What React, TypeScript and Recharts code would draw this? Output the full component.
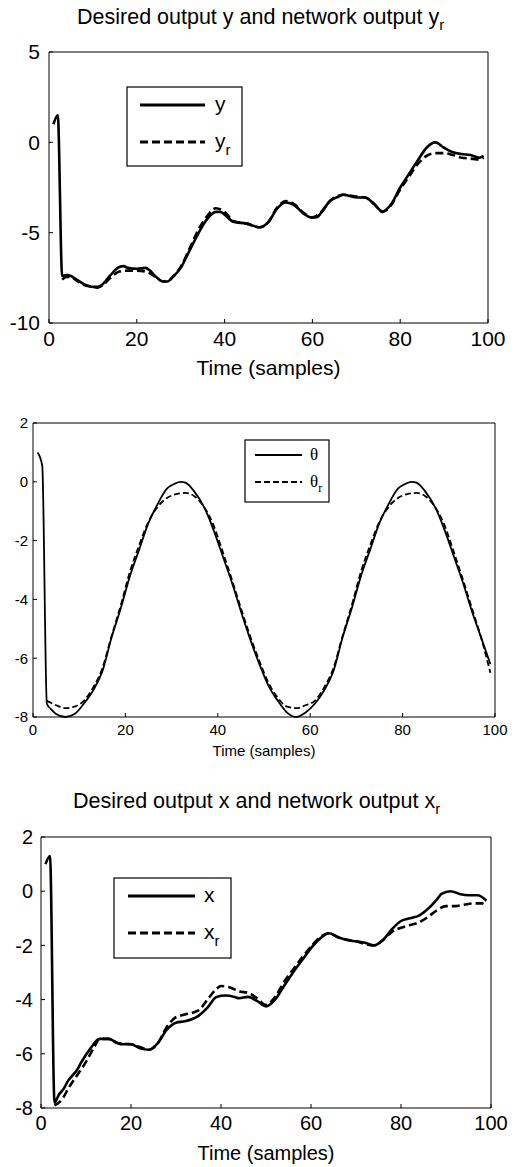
import React from 'react';
import { LineChart, Line, XAxis, YAxis } from 'recharts';

const SANS = '"Liberation Sans", Arial, Helvetica, sans-serif';
const SERIF = '"Liberation Serif", "Times New Roman", serif';

const timeTicks = [0, 20, 40, 60, 80, 100];

// panel 1: y and y_r
const yTicks1 = [-10, -5, 0, 5];
const tY = [1, 2, 3, 4, 5, 6, 8, 10, 11, 12, 14, 16, 17, 18, 20, 22, 23, 24, 26, 27, 28, 30, 32, 34, 36, 38, 39, 40, 42, 45, 48, 50, 52, 54, 56, 58, 60, 61, 62, 64, 66, 67, 70, 72, 74, 76, 78, 80, 82, 84, 86, 88, 90, 92, 94, 96, 98, 99];
const yDesired = [1.0, 1.5, -7.4, -7.35, -7.4, -7.55, -7.85, -8.0, -8.0, -7.9, -7.35, -6.9, -6.85, -6.95, -7.0, -6.95, -7.1, -7.35, -7.7, -7.7, -7.5, -6.95, -6.0, -5.05, -4.25, -3.85, -3.85, -4.0, -4.4, -4.5, -4.7, -4.4, -3.65, -3.33, -3.5, -3.95, -4.17, -4.15, -3.9, -3.25, -3.0, -2.9, -3.05, -3.05, -3.4, -3.83, -3.4, -2.5, -1.75, -1.0, -0.3, 0.0, -0.3, -0.55, -0.65, -0.7, -0.85, -0.75];
const tYr = [3, 4, 5, 6, 8, 10, 11, 12, 14, 16, 18, 20, 22, 24, 26, 27, 28, 30, 32, 34, 36, 38, 40, 42, 45, 48, 50, 52, 54, 56, 58, 60, 62, 64, 66, 67, 70, 72, 74, 76, 78, 80, 82, 84, 86, 88, 90, 92, 94, 96, 98, 99];
const yNetwork = [-7.6, -7.45, -7.45, -7.6, -7.9, -8.0, -8.05, -7.95, -7.5, -7.15, -7.1, -7.1, -7.15, -7.4, -7.7, -7.7, -7.5, -6.9, -5.9, -4.85, -4.1, -3.65, -3.85, -4.35, -4.5, -4.7, -4.4, -3.6, -3.25, -3.45, -3.9, -4.15, -3.85, -3.25, -2.95, -2.9, -3.0, -3.05, -3.4, -3.85, -3.45, -2.6, -1.9, -1.2, -0.75, -0.6, -0.6, -0.7, -0.85, -0.9, -0.95, -0.85];

// panel 2: theta and theta_r
const yTicks2 = [-8, -6, -4, -2, 0, 2];
const tTheta = [1, 2, 3, 4, 5, 7, 9, 11, 13, 15, 17, 19, 21, 23, 25, 27, 29, 30, 32, 33, 35, 37, 39, 41, 43, 45, 47, 49, 51, 53, 55, 57, 59, 61, 63, 65, 67, 69, 71, 73, 75, 77, 79, 80, 82, 83, 85, 87, 89, 91, 93, 95, 97, 99];
const thetaDesired = [1.0, 0.55, -7.55, -7.75, -7.9, -8.0, -7.9, -7.55, -7.1, -6.45, -5.3, -4.3, -3.2, -2.3, -1.4, -0.75, -0.23, -0.12, 0.0, -0.03, -0.35, -0.85, -1.6, -2.5, -3.4, -4.4, -5.35, -6.2, -6.95, -7.45, -7.85, -8.0, -7.85, -7.55, -7.1, -6.45, -5.3, -4.3, -3.2, -2.3, -1.4, -0.75, -0.23, -0.12, 0.0, -0.03, -0.35, -0.85, -1.6, -2.5, -3.4, -4.4, -5.3, -6.2];
const tThetaR = [3, 5, 7, 9, 11, 13, 15, 17, 19, 21, 23, 25, 27, 29, 31, 33, 35, 37, 39, 41, 43, 45, 47, 49, 51, 53, 55, 57, 59, 61, 63, 65, 67, 69, 71, 73, 75, 77, 79, 81, 83, 85, 87, 89, 91, 93, 95, 97, 99];
const thetaNetwork = [-7.45, -7.6, -7.7, -7.65, -7.45, -7.0, -6.35, -5.25, -4.2, -3.05, -2.15, -1.35, -0.85, -0.55, -0.42, -0.38, -0.5, -0.85, -1.45, -2.35, -3.3, -4.3, -5.25, -6.1, -6.85, -7.35, -7.65, -7.7, -7.6, -7.45, -7.0, -6.35, -5.25, -4.2, -3.05, -2.15, -1.35, -0.85, -0.55, -0.42, -0.38, -0.5, -0.85, -1.45, -2.35, -3.3, -4.3, -5.3, -6.5];

// panel 3: x and x_r
const yTicks3 = [-8, -6, -4, -2, 0, 2];
const tX = [1, 2, 3, 4, 5, 6, 8, 9, 11, 13, 15, 17, 18, 20, 22, 24, 26, 28, 30, 32, 35, 37, 39, 41, 43, 44, 46, 48, 50, 52, 54, 56, 58, 60, 62, 64, 66, 68, 70, 72, 74, 76, 78, 80, 82, 84, 86, 88, 89, 91, 93, 95, 97, 99];
const xDesired = [1.0, 1.3, -7.8, -7.5, -7.3, -7.0, -6.6, -6.3, -5.8, -5.45, -5.45, -5.6, -5.65, -5.65, -5.8, -5.85, -5.6, -5.1, -4.85, -4.8, -4.6, -4.3, -3.9, -3.85, -3.9, -3.95, -3.9, -4.05, -4.25, -4.0, -3.5, -3.0, -2.55, -2.1, -1.75, -1.55, -1.7, -1.8, -1.85, -1.9, -2.0, -1.8, -1.4, -1.1, -1.0, -0.9, -0.65, -0.3, -0.1, 0.0, -0.1, -0.15, -0.15, -0.35];
const tXr = [3, 4, 5, 6, 8, 10, 12, 13, 15, 17, 20, 22, 24, 26, 28, 30, 32, 35, 37, 39, 40, 42, 44, 46, 48, 50, 52, 54, 56, 58, 60, 62, 64, 66, 70, 74, 76, 78, 80, 82, 84, 86, 88, 90, 92, 94, 96, 98, 99];
const xNetwork = [-7.9, -7.8, -7.6, -7.3, -6.8, -6.3, -5.7, -5.45, -5.45, -5.6, -5.65, -5.75, -5.85, -5.6, -5.0, -4.65, -4.55, -4.4, -4.0, -3.6, -3.5, -3.55, -3.7, -3.75, -3.95, -4.2, -3.9, -3.35, -2.9, -2.45, -2.05, -1.7, -1.55, -1.7, -1.85, -2.0, -1.8, -1.5, -1.35, -1.25, -1.15, -0.95, -0.7, -0.55, -0.55, -0.5, -0.45, -0.45, -0.55];

const pts = (t: number[], v: number[]) => t.map((x, i) => ({ t: x, v: v[i] }));

interface Series { data: { t: number; v: number }[]; dash?: string; width: number; name: string }

interface PanelProps {
  top: number; height: number;
  plot: { l: number; r: number; t: number; b: number };
  domain: [number, number]; yTicks: number[];
  fontSize: number; xMargin: number; yMargin: number; labelBase: number;
  series: Series[];
}

const Panel = ({ top, height, plot, domain, yTicks, fontSize, xMargin, yMargin, labelBase, series }: PanelProps) => {
  const axisH = top + height - plot.b;
  const tickStyle = { fill: '#000', fontSize, fontFamily: SANS };
  return (
    <div style={{ position: 'absolute', left: 0, top, width: 517, height }}>
      <LineChart width={517} height={height} margin={{ top: plot.t - top - 1, right: 517 - plot.r - 1, bottom: 0, left: 0 }}>
        <XAxis xAxisId="b" dataKey="t" type="number" domain={[0, 100]} ticks={timeTicks} interval={0}
          height={axisH} tickSize={-4} tickMargin={xMargin} stroke="#000" tick={tickStyle}
          label={{ value: 'Time (samples)', position: 'insideBottom', offset: top + height - labelBase, fill: '#000', fontSize, fontFamily: SANS }} />
        <XAxis xAxisId="t" orientation="top" dataKey="t" type="number" domain={[0, 100]} ticks={timeTicks} interval={0}
          height={1} tickSize={-4} tick={false} stroke="#000" />
        <YAxis yAxisId="l" type="number" domain={domain} ticks={yTicks} interval={0} width={plot.l}
          tickSize={-4} tickMargin={yMargin} stroke="#000" tick={tickStyle} />
        <YAxis yAxisId="r" orientation="right" type="number" domain={domain} ticks={yTicks} interval={0} width={1}
          tickSize={-4} tick={false} stroke="#000" />
        {series.map((s) => (
          <Line key={s.name} xAxisId="b" yAxisId="l" data={s.data} dataKey="v" name={s.name} type="monotone"
            stroke="#000" strokeWidth={s.width} strokeDasharray={s.dash} dot={false} isAnimationActive={false} />
        ))}
      </LineChart>
    </div>
  );
};

const LegendBox = ({ x, y, w, h, x1, x2, ys, lx, sym, font, size, sw, dash }: any) => (
  <g>
    <rect x={x} y={y} width={w} height={h} fill="#fff" stroke="#000" strokeWidth={1.2} />
    <line x1={x1} x2={x2} y1={ys[0]} y2={ys[0]} stroke="#000" strokeWidth={sw} />
    <line x1={x1} x2={x2} y1={ys[1]} y2={ys[1]} stroke="#000" strokeWidth={sw} strokeDasharray={dash} />
    <text x={lx} y={ys[0] + size * 0.3} fontFamily={font} fontSize={size}>{sym}</text>
    <text x={lx} y={ys[1] + size * 0.3} fontFamily={font} fontSize={size}>
      {sym}<tspan dy={size * 0.3} fontSize={size * 0.72}>r</tspan>
    </text>
  </g>
);

export default function App() {
  return (
    <div style={{ position: 'absolute', left: 0, top: 0, width: 517, height: 1167, background: '#fff' }}>
      <Panel top={0} height={388} plot={{ l: 49, r: 488, t: 52, b: 323 }} domain={[-10, 5]} yTicks={yTicks1}
        fontSize={21} xMargin={12} yMargin={13} labelBase={375}
        series={[
          { name: 'y', data: pts(tY, yDesired), width: 2.6 },
          { name: 'yr', data: pts(tYr, yNetwork), width: 2.6, dash: '8 4' },
        ]} />
      <Panel top={388} height={384} plot={{ l: 33, r: 495, t: 423, b: 717 }} domain={[-8, 2]} yTicks={yTicks2}
        fontSize={15} xMargin={11} yMargin={9} labelBase={756}
        series={[
          { name: 'theta', data: pts(tTheta, thetaDesired), width: 1.8 },
          { name: 'thetar', data: pts(tThetaR, thetaNetwork), width: 1.8, dash: '6 3' },
        ]} />
      <Panel top={772} height={395} plot={{ l: 41, r: 491, t: 837, b: 1108 }} domain={[-8, 2]} yTicks={yTicks3}
        fontSize={20} xMargin={12} yMargin={12} labelBase={1160}
        series={[
          { name: 'x', data: pts(tX, xDesired), width: 2.6 },
          { name: 'xr', data: pts(tXr, xNetwork), width: 2.6, dash: '8 4' },
        ]} />
      <svg width={517} height={1167} style={{ position: 'absolute', left: 0, top: 0, pointerEvents: 'none' }}>
        <text x={77} y={24} fontFamily={SANS} fontSize={21.5}>
          Desired output y and network output y<tspan dy={6} fontSize={15}>r</tspan>
        </text>
        <text x={73} y={808} fontFamily={SANS} fontSize={21.5}>
          Desired output x and network output x<tspan dy={6} fontSize={15}>r</tspan>
        </text>
        <LegendBox x={127} y={87} w={115} h={79} x1={140} x2={205} ys={[105, 142]} lx={215} sym="y"
          font={SANS} size={21} sw={3} dash="8 4" />
        <LegendBox x={245} y={440} w={84} h={62} x1={255} x2={302} ys={[455, 482]} lx={310} sym="θ"
          font={SERIF} size={17} sw={2} dash="6 3" />
        <LegendBox x={114} y={878} w={117} h={80} x1={128} x2={195} ys={[896, 933]} lx={204} sym="x"
          font={SANS} size={21} sw={3} dash="8 4" />
      </svg>
    </div>
  );
}
